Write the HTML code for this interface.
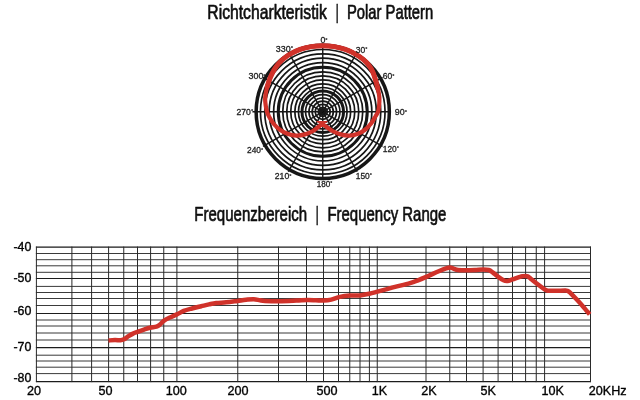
<!DOCTYPE html>
<html lang="de">
<head>
<meta charset="utf-8">
<title>Richtcharkteristik | Polar Pattern – Frequenzbereich | Frequency Range</title>
<style>
html,body{margin:0;padding:0;background:#fff;}
body{width:640px;height:400px;overflow:hidden;font-family:"Liberation Sans",Arial,Helvetica,sans-serif;}
svg{display:block;}
</style>
</head>
<body>
<svg width="640" height="400" viewBox="0 0 640 400" font-family="'Liberation Sans', Arial, Helvetica, sans-serif">
<defs>
<filter id="soft" x="-5%" y="-5%" width="110%" height="110%"><feGaussianBlur stdDeviation="0.45"/></filter>
<filter id="softer" x="-5%" y="-5%" width="110%" height="110%"><feGaussianBlur stdDeviation="0.5"/></filter>
</defs>
<rect width="640" height="400" fill="#fff"/>
<g id="polar" filter="url(#softer)">
<circle cx="322.75" cy="111.80" r="62.3" fill="none" stroke="#141414" stroke-width="1.7"/>
<circle cx="322.75" cy="111.80" r="58.0" fill="none" stroke="#141414" stroke-width="1.7"/>
<circle cx="322.75" cy="111.80" r="53.6" fill="none" stroke="#141414" stroke-width="1.7"/>
<circle cx="322.75" cy="111.80" r="49.1" fill="none" stroke="#141414" stroke-width="1.7"/>
<circle cx="322.75" cy="111.80" r="40.0" fill="none" stroke="#141414" stroke-width="1.7"/>
<circle cx="322.75" cy="111.80" r="36.0" fill="none" stroke="#141414" stroke-width="1.7"/>
<circle cx="322.75" cy="111.80" r="32.0" fill="none" stroke="#141414" stroke-width="1.7"/>
<circle cx="322.75" cy="111.80" r="27.9" fill="none" stroke="#141414" stroke-width="1.7"/>
<circle cx="322.75" cy="111.80" r="24.3" fill="none" stroke="#141414" stroke-width="1.7"/>
<circle cx="322.75" cy="111.80" r="17.2" fill="none" stroke="#141414" stroke-width="1.7"/>
<circle cx="322.75" cy="111.80" r="13.8" fill="none" stroke="#141414" stroke-width="1.7"/>
<circle cx="322.75" cy="111.80" r="10.6" fill="none" stroke="#141414" stroke-width="1.7"/>
<circle cx="322.75" cy="111.80" r="7.5" fill="none" stroke="#141414" stroke-width="1.7"/>
<circle cx="322.75" cy="111.80" r="4.5" fill="none" stroke="#141414" stroke-width="1.7"/>
<circle cx="322.75" cy="111.8" r="44.5" fill="none" stroke="#141414" stroke-width="3.0"/>
<circle cx="322.75" cy="111.8" r="20.8" fill="none" stroke="#141414" stroke-width="3.0"/>
<circle cx="322.75" cy="111.8" r="66.6" fill="none" stroke="#181818" stroke-width="3.5"/>
<circle cx="322.75" cy="111.8" r="3.9" fill="#1a1a1a"/>
<line x1="322.75" y1="111.8" x2="322.75" y2="45.20" stroke="#141414" stroke-width="1.4"/>
<line x1="322.75" y1="111.8" x2="357.25" y2="52.04" stroke="#141414" stroke-width="1.4"/>
<line x1="322.75" y1="111.8" x2="382.51" y2="77.30" stroke="#141414" stroke-width="1.4"/>
<line x1="322.75" y1="111.8" x2="390.75" y2="111.80" stroke="#141414" stroke-width="1.4"/>
<line x1="322.75" y1="111.8" x2="382.51" y2="146.30" stroke="#141414" stroke-width="1.4"/>
<line x1="322.75" y1="111.8" x2="357.25" y2="171.56" stroke="#141414" stroke-width="1.4"/>
<line x1="322.75" y1="111.8" x2="322.75" y2="178.40" stroke="#141414" stroke-width="1.4"/>
<line x1="322.75" y1="111.8" x2="288.25" y2="171.56" stroke="#141414" stroke-width="1.4"/>
<line x1="322.75" y1="111.8" x2="262.99" y2="146.30" stroke="#141414" stroke-width="1.4"/>
<line x1="322.75" y1="111.8" x2="252.45" y2="111.80" stroke="#141414" stroke-width="1.4"/>
<line x1="322.75" y1="111.8" x2="262.99" y2="77.30" stroke="#141414" stroke-width="1.4"/>
<line x1="322.75" y1="111.8" x2="288.25" y2="52.04" stroke="#141414" stroke-width="1.4"/>
<path d="M322.75,123.00 C322.01,123.67 320.01,125.62 318.30,127.00 C316.59,128.38 314.72,130.02 312.50,131.25 C310.28,132.48 307.71,133.68 305.00,134.40 C302.29,135.12 299.17,135.71 296.25,135.60 C293.33,135.49 290.16,134.68 287.50,133.75 C284.84,132.82 282.62,131.67 280.30,130.00 C277.98,128.33 275.50,126.04 273.60,123.75 C271.70,121.46 269.99,118.24 268.90,116.25 C267.81,114.26 267.57,113.54 267.05,111.80 C266.53,110.06 266.08,107.85 265.76,105.81 C265.45,103.77 265.13,101.64 265.14,99.55 C265.14,97.47 265.45,95.38 265.78,93.29 C266.11,91.20 266.57,89.11 267.12,87.03 C267.66,84.95 268.31,82.86 269.06,80.80 C269.81,78.74 270.65,76.67 271.62,74.65 C272.59,72.64 273.66,70.62 274.89,68.71 C276.12,66.80 277.48,64.92 278.99,63.20 C280.50,61.48 282.19,59.87 283.96,58.40 C285.72,56.94 286.92,55.88 289.60,54.38 C292.28,52.88 296.43,50.70 300.04,49.40 C303.65,48.11 307.47,47.21 311.25,46.61 C315.04,46.00 318.92,45.80 322.75,45.80 C326.58,45.80 330.46,46.00 334.25,46.61 C338.03,47.21 341.84,48.12 345.46,49.40 C349.08,50.69 352.94,52.59 355.95,54.30 C358.96,56.00 361.32,57.77 363.51,59.63 C365.69,61.50 367.48,63.34 369.07,65.48 C370.65,67.63 371.90,69.91 373.03,72.52 C374.15,75.13 375.04,78.50 375.84,81.15 C376.63,83.80 377.24,86.02 377.80,88.43 C378.35,90.85 378.91,93.39 379.18,95.62 C379.44,97.85 379.42,99.94 379.38,101.82 C379.34,103.69 379.16,105.22 378.94,106.88 C378.71,108.55 378.61,110.24 378.05,111.80 C377.49,113.36 376.79,114.26 375.60,116.25 C374.41,118.24 372.72,121.46 370.90,123.75 C369.08,126.04 366.85,128.33 364.70,130.00 C362.55,131.67 360.57,132.82 358.00,133.75 C355.43,134.68 352.17,135.49 349.25,135.60 C346.33,135.71 343.21,135.12 340.50,134.40 C337.79,133.68 335.30,132.48 333.00,131.25 C330.70,130.02 328.57,128.38 326.70,127.00 C324.82,125.62 322.57,123.67 321.75,123.00 Z" fill="none" stroke="#d0302a" stroke-width="4.2" stroke-linejoin="miter" stroke-miterlimit="6"/>
<path d="M267.12,87.03 C267.44,85.99 268.31,82.86 269.06,80.80 C269.81,78.74 270.65,76.67 271.62,74.65 C272.59,72.64 273.66,70.62 274.89,68.71 C276.12,66.80 277.48,64.92 278.99,63.20 C280.50,61.48 282.19,59.87 283.96,58.40 C285.72,56.94 286.92,55.88 289.60,54.38 C292.28,52.88 296.43,50.70 300.04,49.40 C303.65,48.11 307.47,47.21 311.25,46.61 C315.04,46.00 318.92,45.80 322.75,45.80 C326.58,45.80 330.46,46.00 334.25,46.61 C338.03,47.21 341.84,48.12 345.46,49.40 C349.08,50.69 352.94,52.59 355.95,54.30 C358.96,56.00 361.32,57.77 363.51,59.63 C365.69,61.50 367.48,63.34 369.07,65.48 C370.65,67.63 371.90,69.91 373.03,72.52 C374.15,75.13 375.04,78.50 375.84,81.15 C376.63,83.80 377.47,87.22 377.80,88.43" fill="none" stroke="#d0302a" stroke-width="5.0" stroke-linecap="round"/>
</g>
<g id="grid" filter="url(#soft)">
<line x1="35.9" y1="247.1" x2="591.0" y2="247.1" stroke="#1a1a1a" stroke-width="1.1"/>
<line x1="35.9" y1="253.5" x2="591.0" y2="253.5" stroke="#3a3a3a" stroke-width="1.0"/>
<line x1="35.9" y1="259.7" x2="591.0" y2="259.7" stroke="#3a3a3a" stroke-width="1.0"/>
<line x1="35.9" y1="265.8" x2="591.0" y2="265.8" stroke="#3a3a3a" stroke-width="1.0"/>
<line x1="35.9" y1="272.3" x2="591.0" y2="272.3" stroke="#3a3a3a" stroke-width="1.0"/>
<line x1="35.9" y1="278.5" x2="591.0" y2="278.5" stroke="#1a1a1a" stroke-width="1.1"/>
<line x1="35.9" y1="286.4" x2="591.0" y2="286.4" stroke="#3a3a3a" stroke-width="1.0"/>
<line x1="35.9" y1="292.5" x2="591.0" y2="292.5" stroke="#3a3a3a" stroke-width="1.0"/>
<line x1="35.9" y1="298.5" x2="591.0" y2="298.5" stroke="#3a3a3a" stroke-width="1.0"/>
<line x1="35.9" y1="305.5" x2="591.0" y2="305.5" stroke="#3a3a3a" stroke-width="1.0"/>
<line x1="35.9" y1="313.5" x2="591.0" y2="313.5" stroke="#1a1a1a" stroke-width="1.1"/>
<line x1="35.9" y1="320.0" x2="591.0" y2="320.0" stroke="#3a3a3a" stroke-width="1.0"/>
<line x1="35.9" y1="326.0" x2="591.0" y2="326.0" stroke="#3a3a3a" stroke-width="1.0"/>
<line x1="35.9" y1="333.0" x2="591.0" y2="333.0" stroke="#3a3a3a" stroke-width="1.0"/>
<line x1="35.9" y1="340.0" x2="591.0" y2="340.0" stroke="#3a3a3a" stroke-width="1.0"/>
<line x1="35.9" y1="347.6" x2="591.0" y2="347.6" stroke="#1a1a1a" stroke-width="1.1"/>
<line x1="35.9" y1="355.2" x2="591.0" y2="355.2" stroke="#3a3a3a" stroke-width="1.0"/>
<line x1="35.9" y1="361.0" x2="591.0" y2="361.0" stroke="#3a3a3a" stroke-width="1.0"/>
<line x1="35.9" y1="367.2" x2="591.0" y2="367.2" stroke="#3a3a3a" stroke-width="1.0"/>
<line x1="35.9" y1="373.6" x2="591.0" y2="373.6" stroke="#3a3a3a" stroke-width="1.0"/>
<line x1="35.9" y1="381.6" x2="591.0" y2="381.6" stroke="#1a1a1a" stroke-width="1.1"/>
<line x1="36.4" y1="246.6" x2="36.4" y2="382.1" stroke="#2a2a2a" stroke-width="1.0"/>
<line x1="71.9" y1="246.6" x2="71.9" y2="382.1" stroke="#2a2a2a" stroke-width="1.0"/>
<line x1="91.6" y1="246.6" x2="91.6" y2="382.1" stroke="#2a2a2a" stroke-width="1.0"/>
<line x1="108.6" y1="246.6" x2="108.6" y2="382.1" stroke="#2a2a2a" stroke-width="1.0"/>
<line x1="123.75" y1="246.6" x2="123.75" y2="382.1" stroke="#2a2a2a" stroke-width="1.0"/>
<line x1="137.5" y1="246.6" x2="137.5" y2="382.1" stroke="#2a2a2a" stroke-width="1.0"/>
<line x1="150.6" y1="246.6" x2="150.6" y2="382.1" stroke="#2a2a2a" stroke-width="1.0"/>
<line x1="163.75" y1="246.6" x2="163.75" y2="382.1" stroke="#2a2a2a" stroke-width="1.0"/>
<line x1="176.9" y1="246.6" x2="176.9" y2="382.1" stroke="#2a2a2a" stroke-width="1.0"/>
<line x1="237.75" y1="246.6" x2="237.75" y2="382.1" stroke="#2a2a2a" stroke-width="1.0"/>
<line x1="278.5" y1="246.6" x2="278.5" y2="382.1" stroke="#2a2a2a" stroke-width="1.0"/>
<line x1="306.5" y1="246.6" x2="306.5" y2="382.1" stroke="#2a2a2a" stroke-width="1.0"/>
<line x1="323.5" y1="246.6" x2="323.5" y2="382.1" stroke="#2a2a2a" stroke-width="1.0"/>
<line x1="338.5" y1="246.6" x2="338.5" y2="382.1" stroke="#2a2a2a" stroke-width="1.0"/>
<line x1="349.75" y1="246.6" x2="349.75" y2="382.1" stroke="#2a2a2a" stroke-width="1.0"/>
<line x1="360" y1="246.6" x2="360" y2="382.1" stroke="#2a2a2a" stroke-width="1.0"/>
<line x1="369.4" y1="246.6" x2="369.4" y2="382.1" stroke="#2a2a2a" stroke-width="1.0"/>
<line x1="377.25" y1="246.6" x2="377.25" y2="382.1" stroke="#2a2a2a" stroke-width="1.0"/>
<line x1="426" y1="246.6" x2="426" y2="382.1" stroke="#2a2a2a" stroke-width="1.0"/>
<line x1="449.75" y1="246.6" x2="449.75" y2="382.1" stroke="#2a2a2a" stroke-width="1.0"/>
<line x1="466.5" y1="246.6" x2="466.5" y2="382.1" stroke="#2a2a2a" stroke-width="1.0"/>
<line x1="483.1" y1="246.6" x2="483.1" y2="382.1" stroke="#2a2a2a" stroke-width="1.0"/>
<line x1="498.1" y1="246.6" x2="498.1" y2="382.1" stroke="#2a2a2a" stroke-width="1.0"/>
<line x1="512.5" y1="246.6" x2="512.5" y2="382.1" stroke="#2a2a2a" stroke-width="1.0"/>
<line x1="525.6" y1="246.6" x2="525.6" y2="382.1" stroke="#2a2a2a" stroke-width="1.0"/>
<line x1="536.25" y1="246.6" x2="536.25" y2="382.1" stroke="#2a2a2a" stroke-width="1.0"/>
<line x1="544.6" y1="246.6" x2="544.6" y2="382.1" stroke="#2a2a2a" stroke-width="1.0"/>
<line x1="590.5" y1="246.6" x2="590.5" y2="382.1" stroke="#2a2a2a" stroke-width="1.0"/>
<path d="M108.50,340.50 C109.58,340.42 113.00,340.03 115.00,340.00 C117.00,339.97 119.00,340.42 120.50,340.30 C122.00,340.18 122.67,339.98 124.00,339.30 C125.33,338.62 127.00,337.15 128.50,336.20 C130.00,335.25 131.50,334.32 133.00,333.60 C134.50,332.88 135.67,332.57 137.50,331.90 C139.33,331.23 141.92,330.29 144.00,329.60 C146.08,328.91 147.92,328.23 150.00,327.75 C152.08,327.27 154.83,327.24 156.50,326.70 C158.17,326.16 158.79,325.48 160.00,324.50 C161.21,323.52 161.88,322.07 163.75,320.80 C165.62,319.53 169.06,317.97 171.25,316.90 C173.44,315.83 174.82,315.40 176.90,314.40 C178.98,313.40 181.23,311.88 183.75,310.90 C186.27,309.92 189.08,309.27 192.00,308.50 C194.92,307.73 198.42,306.93 201.25,306.25 C204.08,305.57 206.50,304.94 209.00,304.40 C211.50,303.86 213.38,303.35 216.25,303.00 C219.12,302.65 222.71,302.65 226.25,302.30 C229.79,301.95 234.21,301.32 237.50,300.90 C240.79,300.48 243.29,300.08 246.00,299.80 C248.71,299.52 251.42,299.12 253.75,299.20 C256.08,299.28 258.12,300.02 260.00,300.30 C261.88,300.58 261.88,300.74 265.00,300.90 C268.12,301.06 273.54,301.30 278.75,301.25 C283.96,301.20 291.46,300.81 296.25,300.60 C301.04,300.39 304.21,300.05 307.50,300.00 C310.79,299.95 313.29,300.20 316.00,300.30 C318.71,300.40 321.21,300.72 323.75,300.60 C326.29,300.48 328.54,300.22 331.25,299.60 C333.96,298.98 336.88,297.57 340.00,296.90 C343.12,296.23 346.67,295.85 350.00,295.60 C353.33,295.35 356.77,295.71 360.00,295.40 C363.23,295.09 366.48,294.38 369.40,293.75 C372.32,293.12 374.73,292.34 377.50,291.60 C380.27,290.86 383.08,290.08 386.00,289.30 C388.92,288.52 391.00,287.93 395.00,286.90 C399.00,285.87 406.17,284.20 410.00,283.10 C413.83,282.00 415.29,281.33 418.00,280.30 C420.71,279.27 422.79,278.41 426.25,276.90 C429.71,275.39 435.46,272.67 438.75,271.25 C442.04,269.83 444.12,269.04 446.00,268.40 C447.88,267.76 448.75,267.37 450.00,267.40 C451.25,267.43 452.17,268.17 453.50,268.60 C454.83,269.03 455.88,269.72 458.00,270.00 C460.12,270.28 463.42,270.30 466.25,270.30 C469.08,270.30 472.19,270.15 475.00,270.00 C477.81,269.85 480.81,269.40 483.10,269.40 C485.39,269.40 487.10,269.47 488.75,270.00 C490.40,270.53 491.54,271.56 493.00,272.60 C494.46,273.64 495.75,274.97 497.50,276.25 C499.25,277.53 501.83,279.51 503.50,280.30 C505.17,281.09 506.00,281.15 507.50,281.00 C509.00,280.85 510.42,280.10 512.50,279.40 C514.58,278.70 518.25,277.33 520.00,276.80 C521.75,276.27 522.07,276.35 523.00,276.20 C523.93,276.05 524.83,275.88 525.60,275.90 C526.37,275.92 526.98,276.05 527.60,276.30 C528.22,276.55 528.73,276.95 529.30,277.40 C529.87,277.85 529.72,277.95 531.00,279.00 C532.28,280.05 535.00,282.15 537.00,283.70 C539.00,285.25 541.63,287.28 543.00,288.30 C544.37,289.32 544.53,289.43 545.20,289.80 C545.87,290.17 546.28,290.33 547.00,290.50 C547.72,290.67 547.75,290.77 549.50,290.80 C551.25,290.83 554.83,290.73 557.50,290.70 C560.17,290.67 563.83,290.57 565.50,290.60 C567.17,290.63 566.88,290.68 567.50,290.90 C568.12,291.12 568.65,291.50 569.20,291.90 C569.75,292.30 569.50,291.98 570.80,293.30 C572.10,294.62 574.97,297.62 577.00,299.80 C579.03,301.98 580.88,303.97 583.00,306.40 C585.12,308.83 588.58,313.07 589.70,314.40" fill="none" stroke="#d0302a" stroke-width="4.5" stroke-linejoin="round" stroke-linecap="butt"/>
</g>
<g id="labels" filter="url(#soft)">
<text x="207.3" y="18.9" font-size="20.2" text-anchor="start" fill="#111" font-weight="normal" textLength="119.6" lengthAdjust="spacingAndGlyphs" stroke="#111" stroke-width="0.7" stroke-linejoin="round">Richtcharkteristik</text>
<text x="335.4" y="18.7" font-size="20.5" text-anchor="start" fill="#111" font-weight="normal" textLength="3.4" lengthAdjust="spacingAndGlyphs" stroke="#111" stroke-width="0.45" stroke-linejoin="round">|</text>
<text x="347.0" y="18.9" font-size="20.2" text-anchor="start" fill="#111" font-weight="normal" textLength="86.2" lengthAdjust="spacingAndGlyphs" stroke="#111" stroke-width="0.7" stroke-linejoin="round">Polar Pattern</text>
<text x="194.3" y="220.7" font-size="20.2" text-anchor="start" fill="#111" font-weight="normal" textLength="112.8" lengthAdjust="spacingAndGlyphs" stroke="#111" stroke-width="0.7" stroke-linejoin="round">Frequenzbereich</text>
<text x="315.4" y="221.3" font-size="20.5" text-anchor="start" fill="#111" font-weight="normal" textLength="3.4" lengthAdjust="spacingAndGlyphs" stroke="#111" stroke-width="0.45" stroke-linejoin="round">|</text>
<text x="327.4" y="220.7" font-size="20.2" text-anchor="start" fill="#111" font-weight="normal" textLength="119.0" lengthAdjust="spacingAndGlyphs" stroke="#111" stroke-width="0.7" stroke-linejoin="round">Frequency Range</text>
<text x="13.4" y="251.20000000000002" font-size="12.4" text-anchor="start" fill="#000" font-weight="normal" stroke="#000" stroke-width="0.35" stroke-linejoin="round">-40</text>
<text x="13.4" y="282.2" font-size="12.4" text-anchor="start" fill="#000" font-weight="normal" stroke="#000" stroke-width="0.35" stroke-linejoin="round">-50</text>
<text x="13.4" y="315.3" font-size="12.4" text-anchor="start" fill="#000" font-weight="normal" stroke="#000" stroke-width="0.35" stroke-linejoin="round">-60</text>
<text x="13.4" y="350.8" font-size="12.4" text-anchor="start" fill="#000" font-weight="normal" stroke="#000" stroke-width="0.35" stroke-linejoin="round">-70</text>
<text x="13.4" y="381.90000000000003" font-size="12.4" text-anchor="start" fill="#000" font-weight="normal" stroke="#000" stroke-width="0.35" stroke-linejoin="round">-80</text>
<text x="27.0" y="395.3" font-size="12.6" text-anchor="start" fill="#000" font-weight="normal" stroke="#000" stroke-width="0.35" stroke-linejoin="round">20</text>
<text x="98.4" y="395.3" font-size="12.6" text-anchor="start" fill="#000" font-weight="normal" stroke="#000" stroke-width="0.35" stroke-linejoin="round">50</text>
<text x="165.8" y="395.3" font-size="12.6" text-anchor="start" fill="#000" font-weight="normal" stroke="#000" stroke-width="0.35" stroke-linejoin="round">100</text>
<text x="227.4" y="395.3" font-size="12.6" text-anchor="start" fill="#000" font-weight="normal" stroke="#000" stroke-width="0.35" stroke-linejoin="round">200</text>
<text x="316.4" y="395.3" font-size="12.6" text-anchor="start" fill="#000" font-weight="normal" stroke="#000" stroke-width="0.35" stroke-linejoin="round">500</text>
<text x="371.7" y="395.3" font-size="12.6" text-anchor="start" fill="#000" font-weight="normal" stroke="#000" stroke-width="0.35" stroke-linejoin="round">1K</text>
<text x="421.2" y="395.3" font-size="12.6" text-anchor="start" fill="#000" font-weight="normal" stroke="#000" stroke-width="0.35" stroke-linejoin="round">2K</text>
<text x="480.4" y="395.3" font-size="12.6" text-anchor="start" fill="#000" font-weight="normal" stroke="#000" stroke-width="0.35" stroke-linejoin="round">5K</text>
<text x="541.5" y="395.3" font-size="12.6" text-anchor="start" fill="#000" font-weight="normal" stroke="#000" stroke-width="0.35" stroke-linejoin="round">10K</text>
<text x="588.8" y="395.3" font-size="12.6" text-anchor="start" fill="#000" font-weight="normal" stroke="#000" stroke-width="0.35" stroke-linejoin="round">20KHz</text>
<text x="320.40000000000003" y="43.4" font-size="8.7" text-anchor="start" fill="#222" font-weight="normal" textLength="7.2" lengthAdjust="spacingAndGlyphs" stroke="#222" stroke-width="0.3" stroke-linejoin="round">0<tspan font-size="66%" dy="-0.30em">°</tspan></text>
<text x="355.8" y="52.9" font-size="8.7" text-anchor="start" fill="#222" font-weight="normal" textLength="11.7" lengthAdjust="spacingAndGlyphs" stroke="#222" stroke-width="0.3" stroke-linejoin="round">30<tspan font-size="66%" dy="-0.30em">°</tspan></text>
<text x="382.8" y="79.3" font-size="8.7" text-anchor="start" fill="#222" font-weight="normal" textLength="11.7" lengthAdjust="spacingAndGlyphs" stroke="#222" stroke-width="0.3" stroke-linejoin="round">60<tspan font-size="66%" dy="-0.30em">°</tspan></text>
<text x="394.8" y="115.3" font-size="8.7" text-anchor="start" fill="#222" font-weight="normal" textLength="12.2" lengthAdjust="spacingAndGlyphs" stroke="#222" stroke-width="0.3" stroke-linejoin="round">90<tspan font-size="66%" dy="-0.30em">°</tspan></text>
<text x="382.8" y="151.9" font-size="8.7" text-anchor="start" fill="#222" font-weight="normal" textLength="16.2" lengthAdjust="spacingAndGlyphs" stroke="#222" stroke-width="0.3" stroke-linejoin="round">120<tspan font-size="66%" dy="-0.30em">°</tspan></text>
<text x="355.8" y="178.9" font-size="8.7" text-anchor="start" fill="#222" font-weight="normal" textLength="16.2" lengthAdjust="spacingAndGlyphs" stroke="#222" stroke-width="0.3" stroke-linejoin="round">150<tspan font-size="66%" dy="-0.30em">°</tspan></text>
<text x="316.8" y="187.1" font-size="8.7" text-anchor="start" fill="#222" font-weight="normal" textLength="15.7" lengthAdjust="spacingAndGlyphs" stroke="#222" stroke-width="0.3" stroke-linejoin="round">180<tspan font-size="66%" dy="-0.30em">°</tspan></text>
<text x="274.8" y="179.4" font-size="8.7" text-anchor="start" fill="#222" font-weight="normal" textLength="16.7" lengthAdjust="spacingAndGlyphs" stroke="#222" stroke-width="0.3" stroke-linejoin="round">210<tspan font-size="66%" dy="-0.30em">°</tspan></text>
<text x="247.0" y="153.4" font-size="8.7" text-anchor="start" fill="#222" font-weight="normal" textLength="16.2" lengthAdjust="spacingAndGlyphs" stroke="#222" stroke-width="0.3" stroke-linejoin="round">240<tspan font-size="66%" dy="-0.30em">°</tspan></text>
<text x="236.5" y="114.89999999999999" font-size="8.7" text-anchor="start" fill="#222" font-weight="normal" textLength="16.7" lengthAdjust="spacingAndGlyphs" stroke="#222" stroke-width="0.3" stroke-linejoin="round">270<tspan font-size="66%" dy="-0.30em">°</tspan></text>
<text x="248.5" y="79.3" font-size="8.7" text-anchor="start" fill="#222" font-weight="normal" textLength="17.2" lengthAdjust="spacingAndGlyphs" stroke="#222" stroke-width="0.3" stroke-linejoin="round">300<tspan font-size="66%" dy="-0.30em">°</tspan></text>
<text x="275.8" y="52.0" font-size="8.7" text-anchor="start" fill="#222" font-weight="normal" textLength="17.2" lengthAdjust="spacingAndGlyphs" stroke="#222" stroke-width="0.3" stroke-linejoin="round">330<tspan font-size="66%" dy="-0.30em">°</tspan></text>
</g>
</svg>
</body>
</html>
